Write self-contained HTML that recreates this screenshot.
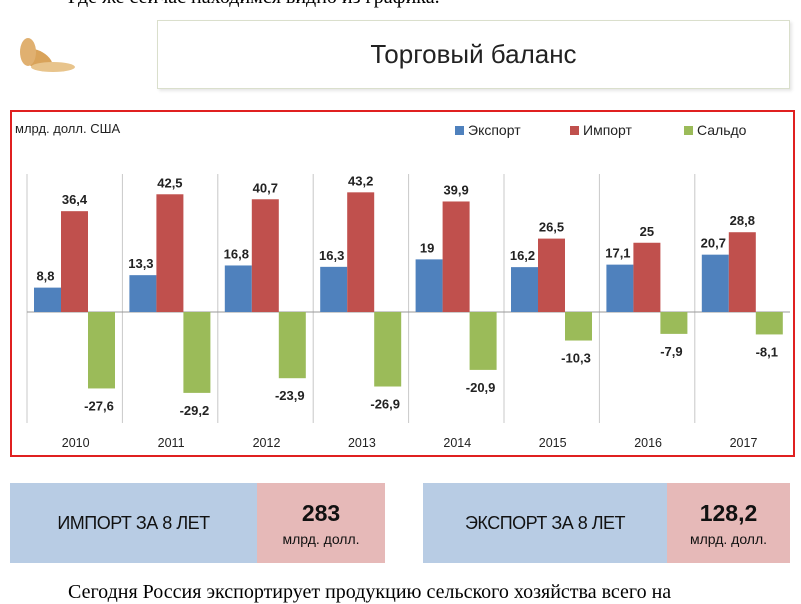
<!DOCTYPE html>
<html><head><meta charset="utf-8"><style>
body{margin:0;width:801px;height:591px;overflow:hidden;background:#fff;position:relative;font-family:"Liberation Sans",sans-serif}
.serif{position:absolute;font-family:"Liberation Serif",serif;font-size:20px;color:#000;white-space:nowrap}
.box{position:absolute;display:flex}
.b{background:#b8cce4;display:flex;align-items:center;justify-content:center;font-size:18px;color:#111;letter-spacing:-0.5px}
.p{background:#e6b9b8;display:flex;flex-direction:column;align-items:center;justify-content:center;color:#111}
</style></head><body>
<div class="serif" style="left:68px;top:-14px">Где же сейчас находимся видно из графика.</div>
<svg style="position:absolute;left:8px;top:22px" width="80" height="62">
<g fill="#d9a35a"><ellipse cx="30" cy="38" rx="16" ry="9" transform="rotate(30 30 38)"/><ellipse cx="45" cy="45" rx="22" ry="5" fill="#e8c48c"/><ellipse cx="20" cy="30" rx="8" ry="14" fill="#e0b070"/></g></svg>
<div style="position:absolute;left:157px;top:20px;width:631px;height:67px;border:1px solid #dadfcc;box-shadow:2px 2px 3px #e6e6e6;display:flex;align-items:center;justify-content:center;font-size:26px;color:#222">Торговый баланс</div>
<div style="position:absolute;left:10px;top:110px;width:781px;height:343px;border:2px solid #e02020"></div>
<svg id="c" style="position:absolute;left:0;top:0" width="801" height="591"></svg>
<div class="box" style="left:10px;top:483px;width:375px;height:80px"><div class="b" style="width:247px">ИМПОРТ ЗА 8 ЛЕТ</div><div class="p" style="flex:1"><b style="font-size:23px">283</b><span style="font-size:14px;margin-top:4px">млрд. долл.</span></div></div>
<div class="box" style="left:423px;top:483px;width:367px;height:80px"><div class="b" style="width:244px">ЭКСПОРТ ЗА 8 ЛЕТ</div><div class="p" style="flex:1"><b style="font-size:23px">128,2</b><span style="font-size:14px;margin-top:4px">млрд. долл.</span></div></div>
<div class="serif" style="left:68px;top:581px">Сегодня Россия экспортирует продукцию сельского хозяйства всего на</div>
<script>
var d=[[2010,8.8,36.4,-27.6],[2011,13.3,42.5,-29.2],[2012,16.8,40.7,-23.9],[2013,16.3,43.2,-26.9],[2014,19,39.9,-20.9],[2015,16.2,26.5,-10.3],[2016,17.1,25,-7.9],[2017,20.7,28.8,-8.1]];
var s='',B=312,k=2.77,W=95.4,x0=27,cols=['#4f81bd','#c0504d','#9bbb59'];
s+='<text x="15" y="133" font-size="13" fill="#222">млрд. долл. США</text>';
var lg=[['Экспорт',455],['Импорт',570],['Сальдо',684]];
lg.forEach(function(l,i){s+='<rect x="'+l[1]+'" y="126" width="9" height="9" fill="'+cols[i]+'"/><text x="'+(l[1]+13)+'" y="135" font-size="14" fill="#222">'+l[0]+'</text>';});
for(var i=0;i<8;i++){var x=x0+i*W;s+='<line x1="'+x+'" y1="174" x2="'+x+'" y2="423" stroke="#c8c8c8"/>';}
s+='<line x1="'+x0+'" y1="'+B+'" x2="790" y2="'+B+'" stroke="#999"/>';
d.forEach(function(r,i){var g=x0+i*W;
for(var j=0;j<3;j++){var v=r[j+1],h=Math.abs(v)*k,x=g+7+27*j,y=v>0?B-h:B;
s+='<rect x="'+x+'" y="'+y+'" width="27" height="'+h+'" fill="'+cols[j]+'"/>';
var t=(''+v).replace('.',',');
if(v>0)s+='<text x="'+(x+13.5-(j==0?2:0))+'" y="'+(y-7)+'" font-size="13" font-weight="bold" text-anchor="middle" fill="#222">'+t+'</text>';
else s+='<text x="'+(x+11)+'" y="'+(B+h+22)+'" font-size="13" font-weight="bold" text-anchor="middle" fill="#222">'+t+'</text>';}
s+='<text x="'+(g+W/2+1)+'" y="447" font-size="12.5" text-anchor="middle" fill="#222">'+r[0]+'</text>';});
document.getElementById('c').innerHTML=s;
</script>
</body></html>
